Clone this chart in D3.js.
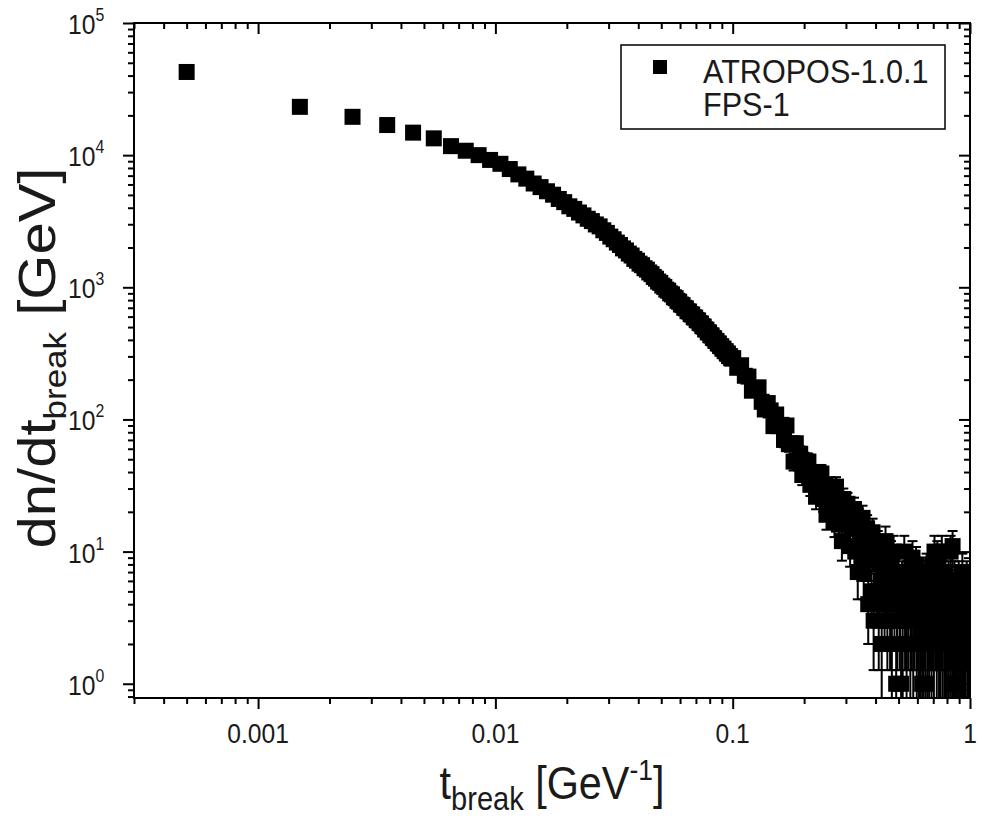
<!DOCTYPE html>
<html><head><meta charset="utf-8">
<script src="https://cdn.jsdelivr.net/npm/d3@7/dist/d3.min.js"></script>
<style>
body{margin:0;background:#fff;}
svg{display:block;font-family:"Liberation Sans",Arial,sans-serif;}
</style></head><body>
<svg id="chart" width="982" height="816"></svg>
<script>
// bin centres in units of 1e-3 GeV^-1 (bin width 0.001)
const headBinMilli = [0.5,1.5,2.5,3.5,4.5,5.5,6.5,7.5,8.5,9.5,10.5,11.5,12.5,13.5,14.5,15.5,16.5,17.5,18.5,19.5,
20.5,21.5,22.5,23.5,24.5,25.5,26.5,27.5,28.5,29.5,30.5,31.5,32.5,33.5,34.5,35.5,36.5,37.5,38.5,39.5,
40.5,41.5,42.5,43.5,44.5,45.5,46.5,47.5,48.5,49.5,50.5,51.5,52.5,53.5,54.5,55.5,56.5,57.5,58.5,59.5,
60.5,61.5,62.5,63.5,64.5,65.5,66.5,67.5,68.5,69.5,70.5,71.5,72.5,73.5,74.5,75.5,76.5,77.5,78.5,79.5,
80.5,81.5,82.5,83.5,84.5,85.5,86.5,87.5,88.5,89.5,90.5,91.5,92.5,93.5,94.5,95.5,96.5,97.5,98.5,99.5];
const headCounts = [42600,23200,19500,16900,14800,13400,11700,10800,10000,9200,8600,7850,7150,6640,6100,5730,5330,5020,4660,4410,
4100,3920,3680,3500,3300,3170,2990,2890,2700,2580,2420,2310,2180,2090,1970,1900,1800,1740,1640,1590,
1510,1470,1395,1360,1295,1258,1198,1162,1105,1080,1030,1006,960,942,899,884,841,827,790,777,
741,733,699,693,660,655,626,622,593,590,564,561,536,532,508,504,480,478,456,455,
434,432,414,411,394,392,376,375,359,358,343,343,329,328,315,315,302,301,291,289];
const tailBinMilli = [100.5,104.5,108.5,112.5,116.5,120.5,124.5,128.5,132.5,136.5,140.5,144.5,148.5,152.5,156.5,160.5,164.5,168.5,172.5,176.5,180.5,184.5,188.5,192.5,196.5,
200.5,204.5,208.5,212.5,216.5,220.5,224.5,228.5,232.5,236.5,240.5,244.5,248.5,252.5,256.5,260.5,264.5,268.5,272.5,276.5,280.5,284.5,288.5,292.5,296.5,
300.5,304.5,308.5,312.5,316.5,320.5,324.5,328.5,332.5,336.5,340.5,344.5,348.5,352.5,356.5,360.5,364.5,368.5,372.5,376.5,380.5,384.5,388.5,392.5,396.5,
400.5,404.5,408.5,412.5,416.5,420.5,424.5,428.5,432.5,436.5,440.5,444.5,448.5,452.5,456.5,460.5,464.5,468.5,472.5,476.5,480.5,484.5,488.5,492.5,496.5,
500.5,504.5,508.5,512.5,516.5,520.5,524.5,528.5,532.5,536.5,540.5,544.5,548.5,552.5,556.5,560.5,564.5,568.5,572.5,576.5,580.5,584.5,588.5,592.5,596.5,
600.5,604.5,608.5,612.5,616.5,620.5,624.5,628.5,632.5,636.5,640.5,644.5,648.5,652.5,656.5,660.5,664.5,668.5,672.5,676.5,680.5,684.5,688.5,692.5,696.5,
700.5,704.5,708.5,712.5,716.5,720.5,724.5,728.5,732.5,736.5,740.5,744.5,748.5,752.5,756.5,760.5,764.5,768.5,772.5,776.5,780.5,784.5,788.5,792.5,796.5,
800.5,804.5,808.5,812.5,816.5,820.5,824.5,828.5,832.5,836.5,840.5,844.5,848.5,852.5,856.5,860.5,864.5,868.5,872.5,876.5,880.5,884.5,888.5,892.5,896.5,
900.5,904.5,908.5,912.5,916.5,920.5,924.5,928.5,932.5,936.5,940.5,944.5,948.5,952.5,956.5,960.5,964.5,968.5,972.5,976.5,980.5,984.5,988.5,992.5,996.5];
const tailCounts = [291,246,257,214,211,165,170,175,136,119,133,117,89,109,89,91,70,90,65,66,48,66,48,55,38,
49,39,48,32,38,39,26,38,30,39,25,29,19,30,24,31,21,17,31,24,16,22,12,25,17,
16,23,18,11,19,15,21,10,16,7,17,12,9,18,7,12,9,15,4,12,10,5,14,3,11,
9,5,11,3,8,6,2,10,7,4,12,5,3,8,6,3,9,2,6,10,4,7,1,3,5,
7,3,4,1,6,2,5,10,3,4,2,6,3,5,7,2,4,3,9,2,5,3,4,8,2,
3,5,2,4,2,6,3,1,4,2,5,3,1,4,7,2,3,5,2,4,6,3,2,8,3,
5,2,10,4,3,6,2,9,3,5,2,4,7,2,3,10,5,2,4,6,3,2,7,4,2,
3,5,2,6,3,4,2,10,3,5,2,11,4,2,3,6,2,1,4,3,1,5,2,3,6,
2,4,3,2,5,2,3,7,2,4,2,3,5,2,4,3,3,6,2,3,4,2,5,2,3];
const xMajorTicks = [0.001, 0.01, 0.1, 1];
const xTickLabels = ["0.001", "0.01", "0.1", "1"];
const yMajorExponents = [0, 1, 2, 3, 4, 5];
const legendLines = ["ATROPOS-1.0.1", "FPS-1"];

const L = 134, R = 970, T = 23, B = 698;
const svg = d3.select("#chart");
svg.append("rect").attr("width", 982).attr("height", 816).attr("fill", "#fff");
const x = d3.scaleLog().domain([0.0003, 1]).range([L, R]);
const y = d3.scaleLog().domain([0.78, 1e5]).range([B, T]);

const data = headBinMilli.map((b, i) => ({t: b / 1000, n: headCounts[i]}))
  .concat(tailBinMilli.map((b, i) => ({t: b / 1000, n: tailCounts[i]})));

svg.append("clipPath").attr("id", "clip").append("rect")
  .attr("x", L).attr("y", T).attr("width", R - L).attr("height", B - T);
const plot = svg.append("g").attr("clip-path", "url(#clip)");

// error bars (Poisson)
const eb = plot.append("g").attr("stroke", "#000").attr("stroke-width", 2).attr("fill", "none");
const cap = 5;
data.forEach(d => {
  const e = Math.sqrt(d.n), lo = d.n - e, hi = d.n + e;
  const cx = x(d.t), yh = y(hi), yl = lo > 0 ? y(lo) : B + 10;
  eb.append("line").attr("x1", cx).attr("x2", cx).attr("y1", yl).attr("y2", yh);
  eb.append("line").attr("x1", cx - cap).attr("x2", cx + cap).attr("y1", yh).attr("y2", yh);
  if (lo > 0) eb.append("line").attr("x1", cx - cap).attr("x2", cx + cap).attr("y1", yl).attr("y2", yl);
});
plot.append("g").selectAll("rect").data(data).join("rect")
  .attr("x", d => x(d.t) - 8).attr("y", d => y(d.n) - 8)
  .attr("width", 16).attr("height", 16).attr("fill", "#000");

// ticks
const xMinor = [], yMinor = [];
[-4, -3, -2, -1].forEach(k => d3.range(2, 10).forEach(m => { const v = m * Math.pow(10, k); if (v >= 0.0003 && v < 1) xMinor.push(v); }));
[-1, 0, 1, 2, 3, 4].forEach(k => d3.range(2, 10).forEach(m => { const v = m * Math.pow(10, k); if (v >= 0.78 && v < 1e5) yMinor.push(v); }));
const yMajor = yMajorExponents.map(e => Math.pow(10, e));

function styleAxis(g) {
  g.select(".domain").remove();
  g.selectAll("line").attr("stroke", "#000").attr("stroke-width", 2);
  g.selectAll("text").remove();
}
svg.append("g").attr("transform", `translate(0,${B})`).call(d3.axisBottom(x).tickValues(xMinor).tickSize(6)).call(styleAxis);
svg.append("g").attr("transform", `translate(0,${B})`).call(d3.axisBottom(x).tickValues(xMajorTicks).tickSize(11)).call(styleAxis);
svg.append("g").attr("transform", `translate(0,${T})`).call(d3.axisBottom(x).tickValues(xMinor).tickSize(6)).call(styleAxis);
svg.append("g").attr("transform", `translate(0,${T})`).call(d3.axisBottom(x).tickValues(xMajorTicks).tickSize(11)).call(styleAxis);
svg.append("g").attr("transform", `translate(${L},0)`).call(d3.axisLeft(y).tickValues(yMinor).tickSize(6)).call(styleAxis);
svg.append("g").attr("transform", `translate(${L},0)`).call(d3.axisLeft(y).tickValues(yMajor).tickSize(11)).call(styleAxis);
svg.append("g").attr("transform", `translate(${R},0)`).call(d3.axisLeft(y).tickValues(yMinor).tickSize(6)).call(styleAxis);
svg.append("g").attr("transform", `translate(${R},0)`).call(d3.axisLeft(y).tickValues(yMajor).tickSize(11)).call(styleAxis);

svg.append("rect").attr("x", L).attr("y", T).attr("width", R - L).attr("height", B - T)
  .attr("fill", "none").attr("stroke", "#000").attr("stroke-width", 2);

const txt = "#1a1a1a";
const sx = 0.88; // horizontal squeeze of the lettering, as in the reference
xMajorTicks.forEach((v, i) => {
  svg.append("text").attr("transform", `translate(${x(v)},743) scale(${sx},1)`)
    .attr("text-anchor", "middle").attr("font-size", 28).attr("fill", txt).text(xTickLabels[i]);
});
yMajorExponents.forEach(e => {
  const t = svg.append("text").attr("transform", `translate(68,${y(Math.pow(10, e)) + 11}) scale(${sx},1)`)
    .attr("font-size", 28).attr("fill", txt);
  t.append("tspan").text("10");
  t.append("tspan").attr("font-size", 18).attr("dy", -13).text(String(e));
});

// axis titles
const xt = svg.append("text").attr("transform", `translate(552,799) scale(${sx},1)`).attr("text-anchor", "middle")
  .attr("font-size", 47).attr("fill", txt);
xt.append("tspan").text("t");
xt.append("tspan").attr("font-size", 33).attr("dy", 11).text("break");
xt.append("tspan").attr("dy", -11).text(" [GeV");
xt.append("tspan").attr("font-size", 30).attr("dy", -19).text("-1");
xt.append("tspan").attr("dy", 19).text("]");

const ytl = svg.append("text").attr("transform", `translate(55,358) rotate(-90) scale(1,${sx})`)
  .attr("text-anchor", "middle").attr("font-size", 58).attr("fill", txt);
ytl.append("tspan").text("dn/dt");
ytl.append("tspan").attr("font-size", 35).attr("dy", 12).text("break");
ytl.append("tspan").attr("dy", -12).text(" [GeV]");

// legend
const lg = svg.append("g");
lg.append("rect").attr("x", 621).attr("y", 45).attr("width", 324).attr("height", 84)
  .attr("fill", "#fff").attr("stroke", "#000").attr("stroke-width", 1.5);
lg.append("rect").attr("x", 653).attr("y", 60).attr("width", 14).attr("height", 14).attr("fill", "#000");
legendLines.forEach((s, i) => lg.append("text").attr("transform", `translate(703,${83 + i * 33}) scale(0.9,1)`)
  .attr("font-size", 34).attr("fill", txt).text(s));
</script>
</body></html>
